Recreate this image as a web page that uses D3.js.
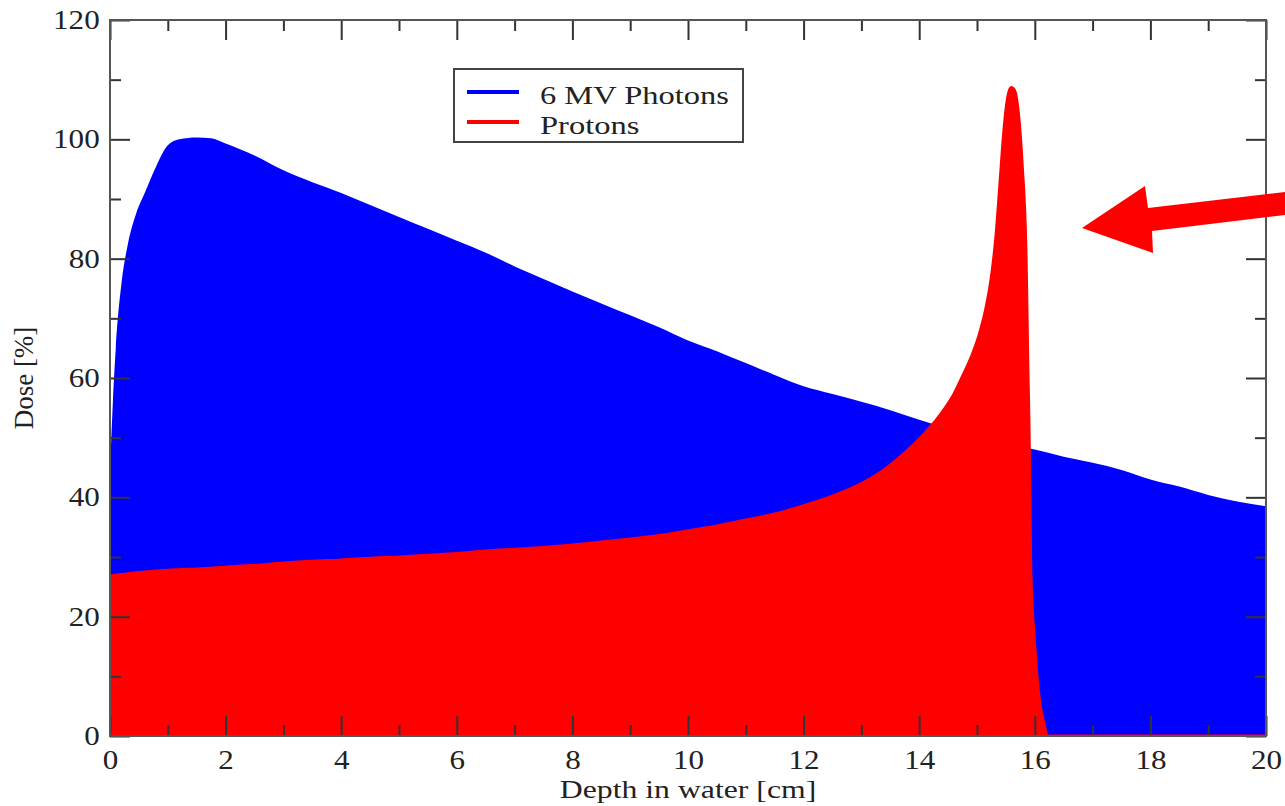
<!DOCTYPE html>
<html>
<head>
<meta charset="utf-8">
<script src="https://cdn.jsdelivr.net/npm/d3@7"></script>
<style>
  body { margin: 0; background: #fff; }
  svg { display: block; font-family: "Liberation Serif", "DejaVu Serif", serif; }
</style>
</head>
<body>
<div id="chart"></div>
<script>
// depth-dose curves
const photonDepth = [0, 0.05, 0.1, 0.2, 0.3, 0.45, 0.6, 0.8, 1.0, 1.2, 1.5, 1.75, 2.0, 2.5, 3, 3.5, 4, 4.5, 5, 5.5, 6, 6.5, 7, 7.5, 8, 8.5, 9, 9.5, 10, 10.5, 11, 11.5, 12, 12.5, 13, 13.5, 14, 14.5, 15, 15.5, 16, 16.5, 17, 17.5, 18, 18.5, 19, 19.5, 20];
const photonDose  = [44, 56, 65, 76, 82, 87.5, 91, 95.5, 99, 100, 100.3, 100.2, 99.3, 97.3, 94.8, 92.8, 91, 89, 87, 85, 83, 81, 78.7, 76.6, 74.5, 72.5, 70.5, 68.5, 66.3, 64.5, 62.5, 60.5, 58.6, 57.3, 56, 54.6, 53, 51.5, 50, 49, 48, 46.8, 45.8, 44.6, 43, 41.8, 40.4, 39.3, 38.5];

const protonDepth = [0, 0.5, 1, 1.5, 2, 2.5, 3, 3.5, 4, 4.5, 5, 5.5, 6, 6.5, 7, 7.5, 8, 8.5, 9, 9.5, 10, 10.5, 11, 11.5, 12, 12.5, 13, 13.3, 13.6, 13.9, 14.1, 14.3, 14.45, 14.6, 14.75, 14.9, 15.03, 15.15, 15.25, 15.33, 15.4, 15.47, 15.53, 15.59, 15.65, 15.72, 15.78, 15.85, 15.88, 15.9, 15.93, 16.0, 16.08, 16.15, 16.22, 18, 20];
const protonDose  = [26.8, 27.4, 27.8, 28, 28.3, 28.6, 29, 29.3, 29.5, 29.8, 30, 30.3, 30.6, 31, 31.3, 31.6, 32, 32.5, 33, 33.6, 34.4, 35.2, 36.2, 37.2, 38.6, 40.2, 42.3, 44, 46.2, 48.8, 50.8, 53, 55, 57.3, 60.3, 63.5, 67, 71.5, 77, 84, 93, 102, 107, 108.7, 108.2, 104, 96, 80, 62, 52, 28, 15, 6, 2.5, 0, 0, 0];

const seriesNames = ["6 MV Photons", "Protons"];
const seriesColors = ["#0000ff", "#ff0000"];
const xMajorTicks = [0, 2, 4, 6, 8, 10, 12, 14, 16, 18, 20];
const xMinorTicks = [1, 3, 5, 7, 9, 11, 13, 15, 17, 19];
const yMajorTicks = [0, 20, 40, 60, 80, 100, 120];
const yMinorTicks = [10, 30, 50, 70, 90, 110];

const W = 1285, H = 806;
const margin = { top: 20, right: 19, bottom: 70, left: 110 };
const width = W - margin.left - margin.right;
const height = H - margin.top - margin.bottom;

const svg = d3.select("#chart").append("svg")
  .attr("width", W)
  .attr("height", H);

const g = svg.append("g")
  .attr("transform", `translate(${margin.left},${margin.top})`);

const x = d3.scaleLinear().domain([0, 20]).range([0, width]);
const y = d3.scaleLinear().domain([0, 120]).range([height, 0]);

g.append("clipPath").attr("id", "plot-clip")
  .append("rect").attr("width", width).attr("height", height);

const area = d3.area()
  .x(d => x(d[0]))
  .y0(y(0))
  .y1(d => y(d[1]))
  .curve(d3.curveMonotoneX);

const photons = photonDepth.map((d, i) => [d, photonDose[i]]);
const protons = protonDepth.map((d, i) => [d, protonDose[i]]);

const plot = g.append("g").attr("clip-path", "url(#plot-clip)");

plot.append("path")
  .datum(photons)
  .attr("d", area)
  .attr("fill", seriesColors[0]);

plot.append("path")
  .datum(protons)
  .attr("d", area)
  .attr("fill", seriesColors[1])
  .attr("stroke", seriesColors[1])
  .attr("stroke-width", 3);

// axes: ticks point into the frame on all four sides
const tickColor = "#333";
const major = 20, minor = 11;

function styleAxis(sel, scaleX) {
  sel.attr("font-family", "Liberation Serif, DejaVu Serif, serif");
  sel.select(".domain").remove();
  sel.selectAll(".tick line").attr("stroke", tickColor).attr("stroke-width", 2);
  sel.selectAll(".tick text")
    .attr("fill", "#222")
    .attr("font-size", 27)
    .attr("transform", `scale(${scaleX},1)`);
}

g.append("g")
  .attr("transform", `translate(0,${height})`)
  .call(d3.axisBottom(x).tickValues(xMajorTicks).tickSize(-major).tickPadding(14))
  .call(s => styleAxis(s, 1.15));
g.append("g")
  .attr("transform", `translate(0,${height})`)
  .call(d3.axisBottom(x).tickValues(xMinorTicks).tickSize(-minor).tickFormat(""))
  .call(s => styleAxis(s, 1));

g.append("g")
  .call(d3.axisTop(x).tickValues(xMajorTicks).tickSize(-major).tickFormat(""))
  .call(s => styleAxis(s, 1));
g.append("g")
  .call(d3.axisTop(x).tickValues(xMinorTicks).tickSize(-minor).tickFormat(""))
  .call(s => styleAxis(s, 1));

g.append("g")
  .call(d3.axisLeft(y).tickValues(yMajorTicks).tickSize(-major).tickPadding(9))
  .call(s => styleAxis(s, 1.15));
g.append("g")
  .call(d3.axisLeft(y).tickValues(yMinorTicks).tickSize(-minor).tickFormat(""))
  .call(s => styleAxis(s, 1));

g.append("g")
  .attr("transform", `translate(${width},0)`)
  .call(d3.axisRight(y).tickValues(yMajorTicks).tickSize(-major).tickFormat(""))
  .call(s => styleAxis(s, 1));
g.append("g")
  .attr("transform", `translate(${width},0)`)
  .call(d3.axisRight(y).tickValues(yMinorTicks).tickSize(-minor).tickFormat(""))
  .call(s => styleAxis(s, 1));

// frame
g.append("rect")
  .attr("width", width)
  .attr("height", height)
  .attr("fill", "none")
  .attr("stroke", "#555")
  .attr("stroke-width", 2);

// axis titles
svg.append("text")
  .attr("transform", `translate(${margin.left + width / 2},${H - 8}) scale(1.27,1)`)
  .attr("text-anchor", "middle")
  .attr("font-size", 25)
  .attr("fill", "#222")
  .text("Depth in water [cm]");

svg.append("text")
  .attr("transform", `translate(33,${margin.top + y(60)}) rotate(-90)`)
  .attr("text-anchor", "middle")
  .attr("font-size", 27)
  .attr("fill", "#222")
  .text("Dose [%]");

// legend
const legend = svg.append("g").attr("transform", "translate(454,69)");
legend.append("rect")
  .attr("width", 289)
  .attr("height", 73)
  .attr("fill", "#fff")
  .attr("stroke", "#444")
  .attr("stroke-width", 2);

seriesNames.forEach((name, i) => {
  const row = legend.append("g").attr("transform", `translate(0,${23 + i * 30})`);
  row.append("line")
    .attr("x1", 13).attr("x2", 65)
    .attr("stroke", seriesColors[i])
    .attr("stroke-width", 4);
  row.append("text")
    .attr("transform", "translate(86,12) scale(1.25,1)")
    .attr("font-size", 26)
    .attr("fill", "#222")
    .text(name);
});

// annotation arrow pointing at the Bragg peak
svg.append("polygon")
  .attr("points", [[1082, 228], [1145, 186], [1148, 208], [1285, 192], [1285, 215], [1152, 231], [1153, 253]].map(p => p.join(",")).join(" "))
  .attr("fill", "#ff0000");
</script>
</body>
</html>
